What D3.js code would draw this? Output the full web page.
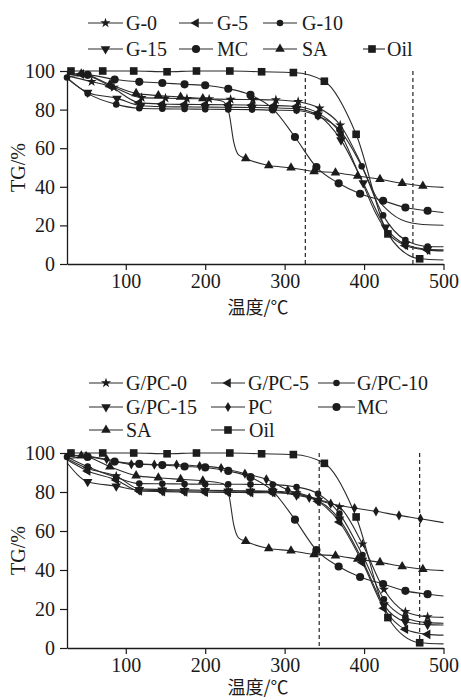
<!DOCTYPE html>
<html>
<head>
<meta charset="utf-8">
<script src="https://cdn.jsdelivr.net/npm/d3@7"></script>
<style>
  body { margin: 0; background: #fff; }
  svg { display: block; }
  text { font-family: "Liberation Serif", "Times New Roman", serif; fill: #1a1a1a; }
</style>
</head>
<body>
<svg id="chart" width="461" height="700"></svg>
<script>
// Thermogravimetric curves: residual mass TG (%) versus temperature (°C)
const xTicks = [100, 200, 300, 400, 500];
const yTicks = [0, 20, 40, 60, 80, 100];

// Reference materials (shared by both panels)
const oilT = [26, 31, 71, 110, 152, 189, 231, 271, 311, 350, 390, 430, 470, 500];
const oilV = [100, 100, 100, 100, 99.6, 100, 100, 99.6, 99.2, 94.7, 67.2, 15.6, 2.7, 2.1];
const mcT = [26, 52, 86, 117, 146, 174, 200, 229, 257, 285, 313, 340, 368, 395, 424, 452, 480, 500];
const mcV = [97, 98, 95.6, 94.4, 93.8, 93.1, 92.6, 90.8, 87.6, 80.5, 65.8, 50.2, 41.8, 36.4, 32.8, 29.3, 27.6, 26.7];
const saT = [26, 44, 80, 113, 141, 169, 197, 222, 230, 236, 242, 251, 280, 308, 337, 364, 392, 420, 448, 474, 500];
const saV = [98, 98.6, 93, 88.4, 87.3, 86.5, 85.7, 84.3, 78, 63, 56.5, 54.7, 51, 49.9, 48, 47.3, 45.6, 43.9, 41.8, 40.4, 39.7];
const saKnots = [26, 222, 230, 236, 242, 500];

// Panel (a): G series
const g0T = [26, 57, 85, 120, 150, 177, 205, 232, 260, 289, 317, 344, 370, 395, 415, 435, 460, 480, 500];
const g0V = [97.5, 94.5, 91.5, 86.2, 85.9, 85.7, 85.5, 85.3, 85.2, 85, 84.1, 80.7, 72, 53, 35, 26, 21.2, 20.3, 20.1];
const g0Knots = [26, 395, 415, 435, 460, 480, 500];
const g5T = [26, 44, 80, 117, 146, 174, 200, 229, 259, 287, 315, 342, 371, 395, 415, 430, 452, 480, 500];
const g5V = [98.5, 98.4, 92.2, 83.6, 82.9, 82.7, 82.6, 82.5, 82.3, 82.1, 81.6, 78.2, 67, 45, 26, 16, 9.6, 7.2, 6.8];
const g5Knots = [26, 395, 415, 430, 500];
const g10T = [26, 52, 88, 117, 146, 174, 200, 229, 259, 285, 315, 342, 369, 397, 424, 452, 480, 500];
const g10V = [96.6, 88.4, 82.7, 80.7, 80.4, 80.3, 80.2, 80.1, 80, 79.7, 79.5, 76.6, 69.5, 50.6, 25.2, 12.4, 9.1, 8.9];
const g15T = [26, 52, 89, 119, 146, 174, 200, 229, 259, 287, 315, 342, 371, 399, 427, 452, 480, 500];
const g15V = [96.2, 88.9, 85.8, 82, 81.5, 81.4, 81.3, 81.2, 81.1, 80.9, 80.4, 77.1, 64.2, 42, 19, 10.2, 7.6, 7.3];

// Panel (b): G/PC series and PC
const gp0T = [26, 52, 88, 117, 146, 174, 200, 229, 257, 285, 315, 342, 369, 398, 425, 452, 480, 500];
const gp0V = [97, 92, 88.2, 81.6, 81.3, 81.1, 80.9, 80.7, 80.6, 80.4, 79.6, 76.2, 72.3, 53.3, 30, 18.6, 16, 15.7];
const gp5T = [26, 52, 88, 117, 146, 174, 200, 229, 257, 285, 315, 342, 369, 398, 425, 452, 480, 500];
const gp5V = [96.5, 90.8, 86.2, 80.5, 80.2, 80, 79.9, 79.8, 79.7, 79.6, 79, 75.2, 64.6, 43.8, 20.4, 9.6, 7, 6.6];
const gp10T = [26, 52, 88, 117, 146, 174, 200, 229, 257, 285, 315, 342, 369, 398, 425, 452, 480, 500];
const gp10V = [98, 93, 87.5, 84.3, 84.2, 84.1, 84, 84, 83.9, 83.8, 82.6, 79.1, 68.9, 47.7, 25, 15.7, 13, 12.7];
const gp15T = [26, 52, 88, 117, 146, 174, 200, 229, 257, 285, 315, 342, 369, 398, 425, 452, 480, 500];
const gp15V = [95, 85.3, 83, 81, 80.7, 80.6, 80.5, 80.4, 80.3, 80.2, 78.3, 75.5, 66, 45, 22, 13.5, 12, 11.8];
const pcT = [26, 50, 76, 107, 136, 164, 193, 220, 250, 277, 304, 331, 358, 388, 415, 444, 471, 500];
const pcV = [99, 98.5, 96.8, 94.2, 94, 94, 93.3, 92.3, 89.4, 86.5, 81, 77, 74, 71.8, 70.1, 68, 66.3, 64.3];

// Dashed reference temperatures
const dashA = [326, 461.5];
const dashB = [343.5, 470];

const svg = d3.select("#chart");
const lineColor = "#2b2b2b";
const markFill = "#1c1c1c";

// Marker shapes
const markers = {
  star:   { type: d3.symbolStar, size: 32, rot: 0 },
  left:   { type: d3.symbolTriangle, size: 40, rot: -90 },
  down:   { type: d3.symbolTriangle, size: 40, rot: 180 },
  up:     { type: d3.symbolTriangle, size: 40, rot: 0 },
  dot:    { type: d3.symbolCircle, size: 34, rot: 0 },
  circle: { type: d3.symbolCircle, size: 52, rot: 0 },
  square: { type: d3.symbolSquare, size: 58, rot: 0 },
  diamond:{ type: d3.symbolDiamond, size: 30, rot: 0 }
};

function zip(t, v) { return t.map((d, i) => [d, v[i]]); }

function drawMarker(g, x, y, key) {
  const m = markers[key];
  g.append("path")
    .attr("d", d3.symbol().type(m.type).size(m.size)())
    .attr("transform", `translate(${x},${y}) rotate(${m.rot})`)
    .attr("fill", markFill)
    .attr("stroke", "none");
}

const x = d3.scaleLinear().domain([26, 500]).range([67, 443.5]);

function panel(cfg) {
  const y = d3.scaleLinear().domain([0, 100]).range([cfg.bottom, cfg.top]);
  const g = svg.append("g");

  // dashed verticals
  cfg.dashes.forEach(t => {
    g.append("line")
      .attr("x1", x(t)).attr("x2", x(t))
      .attr("y1", y(100)).attr("y2", y(0))
      .attr("stroke", "#111").attr("stroke-width", 1.1)
      .attr("stroke-dasharray", "4,3");
  });

  const line = d3.line().x(d => x(d[0])).y(d => y(d[1])).curve(d3.curveMonotoneX);

  cfg.series.forEach(s => {
    const pts = zip(s.t, s.v);
    g.append("path").datum(pts)
      .attr("d", line)
      .attr("fill", "none")
      .attr("stroke", lineColor)
      .attr("stroke-width", 1.1);
  });
  cfg.series.forEach(s => {
    const knots = s.knots || [26, 500];
    zip(s.t, s.v).forEach(d => {
      if (knots.includes(d[0]) && !(s.markStart && d[0] === 26)) return;
      drawMarker(g, x(d[0]), y(d[1]), s.mark);
    });
  });

  // axes
  const ax = g.append("g").attr("transform", `translate(0,${cfg.bottom})`)
    .call(d3.axisBottom(x).tickValues(xTicks).tickSize(6).tickSizeOuter(0).tickPadding(4));
  const ay = g.append("g").attr("transform", `translate(67,0)`)
    .call(d3.axisLeft(y).tickValues(yTicks).tickSize(7).tickSizeOuter(0).tickPadding(5));
  [ax, ay].forEach(a => {
    a.select(".domain").attr("stroke", "#1a1a1a").attr("stroke-width", 1.3);
    a.selectAll(".tick line").attr("stroke", "#1a1a1a").attr("stroke-width", 1.2);
    a.selectAll(".tick text").attr("font-family", '"Liberation Serif", serif')
      .attr("font-size", 20).attr("fill", "#1a1a1a");
  });

  // axis titles
  g.append("text")
    .attr("x", 258).attr("y", cfg.xTitleY)
    .attr("text-anchor", "middle")
    .style("font-family", '"Noto Sans CJK SC", sans-serif')
    .attr("font-size", 18)
    .text("温度/℃");
  g.append("text")
    .attr("transform", `translate(25,${(cfg.top + cfg.bottom) / 2}) rotate(-90)`)
    .attr("text-anchor", "middle")
    .attr("font-size", 20)
    .text("TG/%");

  // legend
  cfg.legend.forEach(it => {
    const s = cfg.series.find(d => d.name === it.name);
    g.append("line")
      .attr("x1", it.x0).attr("x2", it.x1)
      .attr("y1", it.y).attr("y2", it.y)
      .attr("stroke", lineColor).attr("stroke-width", 1.1);
    drawMarker(g, it.mx !== undefined ? it.mx : (it.x0 + it.x1) / 2, it.y, s.mark);
    g.append("text")
      .attr("x", it.tx).attr("y", it.y + 6.5)
      .attr("font-size", 20)
      .text(it.name);
  });
}

const oil = { name: "Oil", t: oilT, v: oilV, mark: "square" };
const mc = { name: "MC", t: mcT, v: mcV, mark: "circle" };
const sa = { name: "SA", t: saT, v: saV, mark: "up", knots: saKnots };

panel({
  top: 71, bottom: 264, xTitleY: 314, dashes: dashA,
  series: [
    { name: "G-0", t: g0T, v: g0V, mark: "star", knots: g0Knots },
    { name: "G-5", t: g5T, v: g5V, mark: "left", knots: g5Knots },
    { name: "G-10", t: g10T, v: g10V, mark: "dot", markStart: true },
    { name: "G-15", t: g15T, v: g15V, mark: "down" },
    mc, sa, oil
  ],
  legend: [
    { name: "G-0", x0: 88, x1: 123, tx: 126, y: 23 },
    { name: "G-5", x0: 179, x1: 213, tx: 217, y: 23 },
    { name: "G-10", x0: 263, x1: 297, tx: 302, y: 23 },
    { name: "G-15", x0: 88, x1: 123, tx: 126, y: 49 },
    { name: "MC", x0: 179, x1: 213, tx: 217, y: 49 },
    { name: "SA", x0: 263, x1: 297, tx: 302, y: 49 },
    { name: "Oil", x0: 363, x1: 385, mx: 372, tx: 387, y: 49 }
  ]
});

panel({
  top: 453, bottom: 648, xTitleY: 694, dashes: dashB,
  series: [
    { name: "G/PC-0", t: gp0T, v: gp0V, mark: "star" },
    { name: "G/PC-5", t: gp5T, v: gp5V, mark: "left" },
    { name: "G/PC-10", t: gp10T, v: gp10V, mark: "dot", markStart: true },
    { name: "G/PC-15", t: gp15T, v: gp15V, mark: "down" },
    { name: "PC", t: pcT, v: pcV, mark: "diamond" },
    mc, sa, oil
  ],
  legend: [
    { name: "G/PC-0", x0: 89, x1: 123, tx: 126, y: 383 },
    { name: "G/PC-5", x0: 211, x1: 245, tx: 248, y: 383 },
    { name: "G/PC-10", x0: 318, x1: 355, tx: 357, y: 383 },
    { name: "G/PC-15", x0: 89, x1: 123, tx: 126, y: 407 },
    { name: "PC", x0: 211, x1: 245, tx: 248, y: 407 },
    { name: "MC", x0: 318, x1: 355, tx: 357, y: 407 },
    { name: "SA", x0: 89, x1: 123, tx: 126, y: 430 },
    { name: "Oil", x0: 211, x1: 245, tx: 249, y: 430 }
  ]
});
</script>
</body>
</html>
